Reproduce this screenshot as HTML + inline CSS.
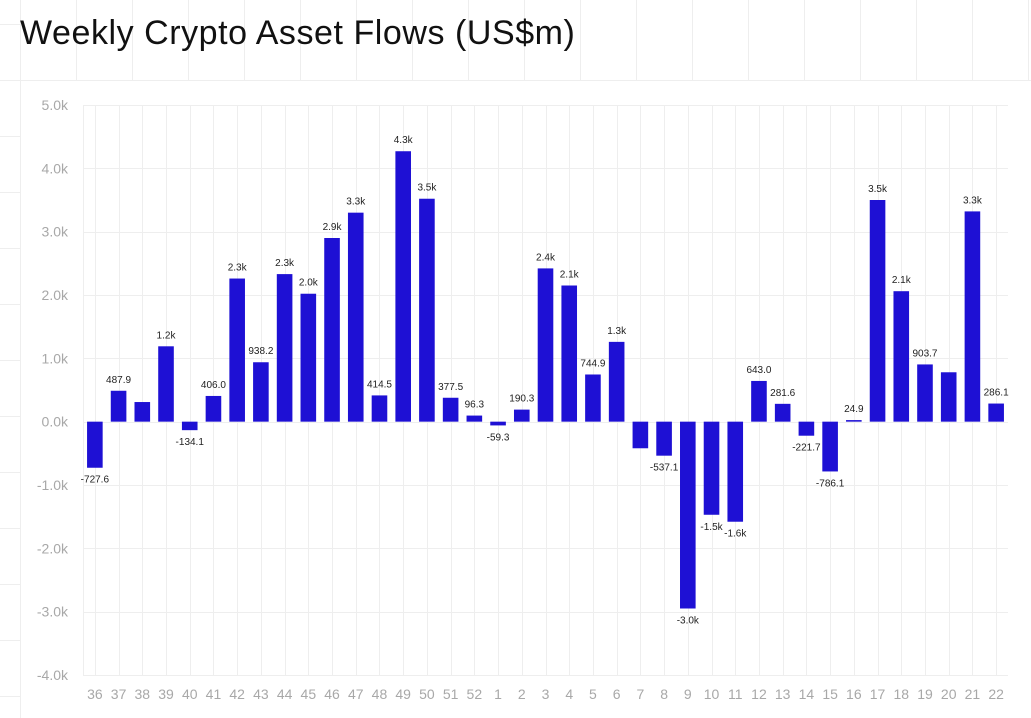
<!DOCTYPE html>
<html><head><meta charset="utf-8"><style>
html,body{margin:0;padding:0;background:#fff;}
body{width:1031px;height:718px;overflow:hidden;position:relative;font-family:"Liberation Sans",sans-serif;}
#bg{position:absolute;left:0;top:0;}
h1{position:absolute;left:20px;top:14px;margin:0;font-weight:400;font-size:34px;color:#111;letter-spacing:0.55px;}
</style></head><body>
<svg id="bg" width="1031" height="718"></svg>
<h1>Weekly Crypto Asset Flows (US$m)</h1>
<svg id="chart" width="1031" height="718" style="position:absolute;left:0;top:0"></svg>
<script>
const categories=["36","37","38","39","40","41","42","43","44","45","46","47","48","49","50","51","52","1","2","3","4","5","6","7","8","9","10","11","12","13","14","15","16","17","18","19","20","21","22"];
const values=[-727.6,487.9,310,1190,-134.1,406.0,2260,938.2,2330,2020,2900,3300,414.5,4270,3520,377.5,96.3,-59.3,190.3,2420,2150,744.9,1260,-420,-537.1,-2950,-1470,-1580,643.0,281.6,-221.7,-786.1,24.9,3500,2060,903.7,780,3320,286.1];
const labels=["-727.6","487.9",null,"1.2k","-134.1","406.0","2.3k","938.2","2.3k","2.0k","2.9k","3.3k","414.5","4.3k","3.5k","377.5","96.3","-59.3","190.3","2.4k","2.1k","744.9","1.3k",null,"-537.1","-3.0k","-1.5k","-1.6k","643.0","281.6","-221.7","-786.1","24.9","3.5k","2.1k","903.7",null,"3.3k","286.1"];
const yTicks=[5000,4000,3000,2000,1000,0,-1000,-2000,-3000,-4000];
const yTickLabels=["5.0k","4.0k","3.0k","2.0k","1.0k","0.0k","-1.0k","-2.0k","-3.0k","-4.0k"];
const NS="http://www.w3.org/2000/svg";
const bg=document.getElementById('bg');
function ln(svg,x1,y1,x2,y2,c){const l=document.createElementNS(NS,'line');l.setAttribute('x1',x1);l.setAttribute('y1',y1);l.setAttribute('x2',x2);l.setAttribute('y2',y2);l.setAttribute('stroke',c);l.setAttribute('stroke-width',1);svg.appendChild(l);return l;}
for(let x=20;x<1031;x+=56)ln(bg,x+0.5,0,x+0.5,80,'#eeeeee');
for(let y=24;y<718;y+=56)ln(bg,0,y+0.5,20,y+0.5,'#eeeeee');
ln(bg,0,80.5,1031,80.5,'#eeeeee');ln(bg,20.5,80,20.5,718,'#eeeeee');
const svg=document.getElementById('chart');
const L=83,R=1008,T=105,B=675,ymin=-4000,ymax=5000;
const bw=(R-L)/categories.length;
const y=v=>T+(ymax-v)/(ymax-ymin)*(B-T);
const xc=i=>L+bw*(i+0.5);
function txt(x,yy,s,size,fill,anchor){const t=document.createElementNS(NS,'text');t.setAttribute('x',x);t.setAttribute('y',yy);t.setAttribute('font-size',size);t.setAttribute('fill',fill);t.setAttribute('text-anchor',anchor);t.setAttribute('font-family','Liberation Sans, sans-serif');t.textContent=s;svg.appendChild(t);return t;}
yTicks.forEach((v,k)=>{
 const g=ln(svg,L,Math.round(y(v))+0.5,R,Math.round(y(v))+0.5,'#eeeeee');
 
 
 const t=txt(68,y(v)+5,yTickLabels[k],14,'#a8a8a8','end');
 
 
});
ln(svg,L+0.5,T,L+0.5,B,'#eeeeee');
categories.forEach((c,i)=>{
 const g=ln(svg,Math.round(xc(i))+0.5,T,Math.round(xc(i))+0.5,B,'#eeeeee');
 
 
 const t=txt(xc(i),699,c,14,'#a8a8a8','middle');
 
 
});
values.forEach((v,i)=>{
 const r=document.createElementNS(NS,'rect');
 const y0=y(0),y1=y(v);
 r.setAttribute('x',xc(i)-7.8);r.setAttribute('width',15.6);
 r.setAttribute('y',Math.min(y0,y1));r.setAttribute('height',Math.max(1,Math.abs(y1-y0)));
 r.setAttribute('fill','#1e10d4');
 
 
 svg.appendChild(r);
 if(labels[i]){
  const ty=v>=0?y1-8:y1+15;
  const t=txt(xc(i),ty,labels[i],10,'#222','middle');
  
  
 }
});
</script>
</body></html>
